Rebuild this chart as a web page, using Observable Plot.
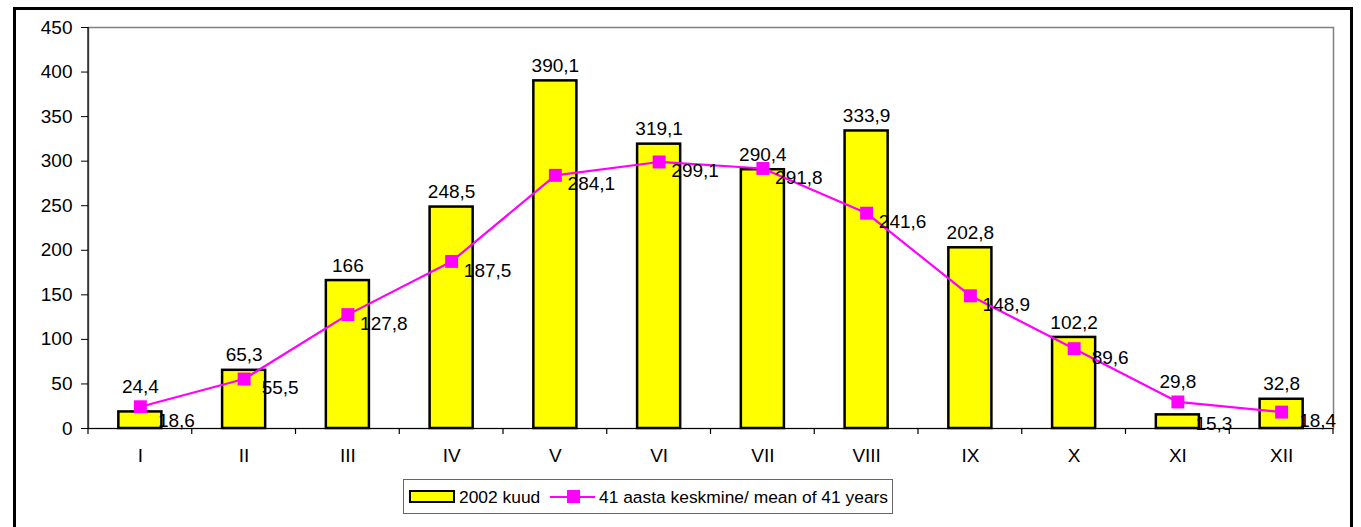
<!DOCTYPE html>
<html>
<head>
<meta charset="utf-8">
<script src="https://cdn.jsdelivr.net/npm/d3@7"></script>
<script src="https://cdn.jsdelivr.net/npm/@observablehq/plot@0.6"></script>
<style>
  html, body { margin: 0; padding: 0; background: #fff; overflow: hidden; }
  body { width: 1361px; height: 527px; position: relative; font-family: Arial, "Liberation Sans", sans-serif; }
  #border { position: absolute; left: 13px; top: 7px; width: 1340px; height: 540px; border: 3px solid #000; box-sizing: border-box; }
  #chart { position: absolute; left: 0; top: 0; }
  #legend { position: absolute; left: 403px; top: 479px; width: 490px; height: 35px; border: 1px solid #666; box-sizing: border-box; background: #fff; font-size: 17.4px; color: #000; white-space: nowrap; }
  #legend .sw1 { position: absolute; left: 5px; top: 10px; width: 46px; height: 13px; background: #FFFF00; border: 2px solid #000; box-sizing: border-box; }
  #legend .t1 { position: absolute; left: 55px; top: 7px; }
  #legend .ln { position: absolute; left: 146px; top: 16px; width: 45px; height: 2px; background: #FF00FF; }
  #legend .mk { position: absolute; left: 163px; top: 10px; width: 13px; height: 13px; background: #FF00FF; }
  #legend .t2 { position: absolute; left: 195px; top: 7px; }
</style>
</head>
<body>
<div id="chart"></div>
<div id="border"></div>
<div id="legend">
  <div class="sw1"></div><span class="t1">2002 kuud</span>
  <div class="ln"></div><div class="mk"></div><span class="t2">41 aasta keskmine/ mean of 41 years</span>
</div>
<script>
const months = ["I", "II", "III", "IV", "V", "VI", "VII", "VIII", "IX", "X", "XI", "XII"];
const kuud2002 = [18.6, 65.3, 166, 248.5, 390.1, 319.1, 290.4, 333.9, 202.8, 102.2, 15.3, 32.8];
const mean41 = [24.4, 55.5, 127.8, 187.5, 284.1, 299.1, 291.8, 241.6, 148.9, 89.6, 29.8, 18.4];
const yTicks = [0, 50, 100, 150, 200, 250, 300, 350, 400, 450];

const rows = months.map((m, i) => ({month: m, bar: kuud2002[i], mean: mean41[i]}));
const fmt = v => String(v).replace(".", ",");
const lineOnTop = d => d.mean > d.bar + 5;

const barTop = rows.filter(d => !lineOnTop(d));
const lineTop = rows.filter(d => lineOnTop(d));
const side = rows.map(d => ({month: d.month, value: lineOnTop(d) ? d.bar : d.mean}));

const PAD = 0.585;
const FS = 19;
const font = {fontSize: FS, fill: "#000"};

const chart = Plot.plot({
  width: 1361,
  height: 470,
  marginLeft: 88,
  marginRight: 28,
  marginTop: 27,
  marginBottom: 42,
  style: {fontFamily: "Arial, 'Liberation Sans', sans-serif", fontSize: FS + "px", color: "#000", background: "transparent"},
  x: {domain: months, paddingInner: PAD, paddingOuter: PAD / 2, round: false},
  y: {domain: [0, 450]},
  marks: [
    Plot.frame({stroke: "#808080", strokeWidth: 1.5}),
    Plot.axisY({ticks: yTicks, tickSize: 7, tickPadding: 9, stroke: "#000", fontSize: FS, label: null}),
    Plot.axisX({tickSize: 0, tickPadding: 20, fontSize: FS, label: null}),
    Plot.barY(rows, {x: "month", y: "bar", fill: "#FFFF00", stroke: "#000", strokeWidth: 2.5}),
    Plot.ruleY([0], {stroke: "#000", strokeWidth: 1.2}),
    Plot.line(rows, {x: "month", y: "mean", stroke: "#FF00FF", strokeWidth: 2.2}),
    Plot.dot(rows, {x: "month", y: "mean", symbol: "square", r: 7.3, fill: "#FF00FF", stroke: null}),
    Plot.text(barTop, {x: "month", y: "bar", text: d => fmt(d.bar), dy: -15, ...font}),
    Plot.text(lineTop, {x: "month", y: "mean", text: d => fmt(d.mean), dy: -20, ...font}),
    Plot.text(side, {x: "month", y: "value", text: d => fmt(d.value), dx: 36, dy: 9, ...font})
  ]
});

// Axis lines and category-boundary ticks drawn from Plot's own scales
const xs = chart.scale("x");
const ys = chart.scale("y");
const y0 = ys.apply(0), yTop = ys.apply(450);
const half = (xs.step - xs.bandwidth) / 2;
const bounds = months.map(m => xs.apply(m) - half);
bounds.push(xs.apply(months[months.length - 1]) + xs.bandwidth + half);
const g = d3.select(chart).append("g").attr("stroke", "#000").attr("stroke-width", 1.2);
g.append("line").attr("x1", bounds[0]).attr("x2", bounds[0]).attr("y1", yTop).attr("y2", y0);
bounds.forEach(b => {
  g.append("line").attr("x1", b).attr("x2", b).attr("y1", y0).attr("y2", y0 + 6);
});

document.getElementById("chart").appendChild(chart);
</script>
</body>
</html>
